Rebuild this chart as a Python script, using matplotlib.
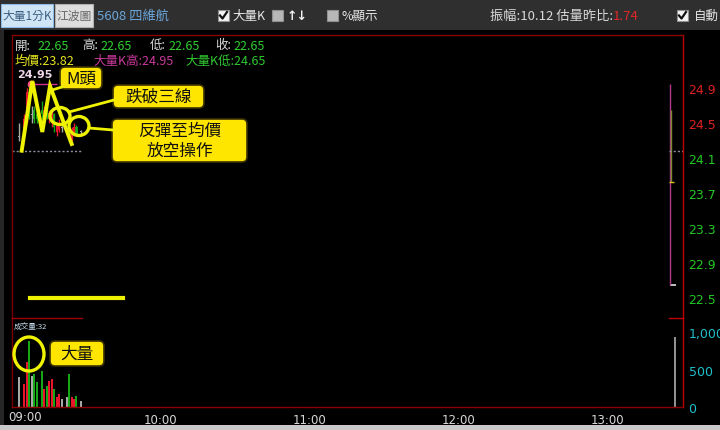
import matplotlib
matplotlib.use('Agg')
import matplotlib.pyplot as plt
from matplotlib.patches import Rectangle, FancyBboxPatch, Ellipse
from matplotlib.lines import Line2D

plt.rcParams['font.family'] = ['Noto Sans CJK TC', 'DejaVu Sans']

W, H = 720, 431

# ---------------- data ----------------
minutes = [3, 5, 6, 7, 8, 9, 10, 12, 13, 14, 15, 16, 17, 18, 19, 20, 22, 23, 24, 25, 26, 28]
opens  = [24.35, 24.40, 24.55, 24.85, 24.60, 24.65, 24.60, 24.65, 24.55, 24.65, 24.55, 24.55, 24.60, 24.40, 24.42, 24.45, 24.40, 24.45, 24.32, 24.38, 24.45, 24.40]
highs  = [24.50, 24.60, 24.90, 24.95, 24.70, 24.70, 24.65, 24.75, 24.70, 24.70, 24.65, 24.65, 24.62, 24.50, 24.55, 24.50, 24.45, 24.48, 24.45, 24.50, 24.48, 24.42]
lows   = [24.30, 24.35, 24.50, 24.55, 24.50, 24.50, 24.50, 24.55, 24.50, 24.55, 24.50, 24.45, 24.40, 24.35, 24.40, 24.40, 24.35, 24.28, 24.30, 24.35, 24.35, 24.36]
closes = [24.35, 24.55, 24.85, 24.60, 24.60, 24.55, 24.55, 24.60, 24.65, 24.60, 24.62, 24.60, 24.45, 24.48, 24.50, 24.45, 24.40, 24.32, 24.42, 24.46, 24.38, 24.40]
volumes = [400, 307, 600, 880, 413, 440, 333, 480, 240, 280, 347, 373, 240, 133, 173, 107, 133, 440, 133, 107, 147, 80]

last_minute = 266.5
last_ohlc = (22.65, 22.65, 22.65, 22.65)
last_vol_minute = 267.5
last_volume = 933

bigk_high = 24.95
bigk_low = 24.65
avg_price = 23.82
ref_line = 24.18

price_ticks = [24.9, 24.5, 24.1, 23.7, 23.3, 22.9, 22.5]
price_tick_colors = ['#e02020', '#e02020', '#22c822', '#22c822', '#22c822', '#22c822', '#22c822']
vol_ticks = [0, 500, 1000]
vol_tick_labels = ['0', '500', '1,000']
time_ticks = [60, 120, 180, 240]
time_labels = ['10:00', '11:00', '12:00', '13:00']

# ---------------- figure ----------------
fig = plt.figure(figsize=(W / 100, H / 100), dpi=100)
fig.patch.set_facecolor('black')

def fx(x):
    return x / W

def fy(y):
    return 1 - y / H

XL = (0, 270.6)
PY = (22.271, 25.506)

ax = fig.add_axes([fx(12), fy(319), fx(683) - fx(12), fy(36) - fy(319)])
ax.set_facecolor('none')
ax.set_xlim(*XL)
ax.set_ylim(*PY)

axv = fig.add_axes([fx(12), fy(408), fx(683) - fx(12), fy(319) - fy(408)])
axv.set_facecolor('none')
axv.set_xlim(*XL)
axv.set_ylim(0, 1186.7)

def ccol(o, c):
    if c > o:
        return '#e8152b'
    if c < o:
        return '#14a814'
    return '#a8a8a8'

cols = [ccol(o, c) for o, c in zip(opens, closes)]
for m, o, h, l, c, col in zip(minutes, opens, highs, lows, closes, cols):
    ax.vlines(m, l, h, color=col, lw=1.0)
    b = min(o, c)
    hgt = max(abs(c - o), 0.012)
    ax.bar(m, hgt, bottom=b - (0.006 if c == o else 0), width=0.85, color=col, lw=0)

# last candle (doji)
ax.hlines(last_ohlc[3], last_minute - 1.2, last_minute + 1.2, color='#e0e0e0', lw=1.2)

# big-K high line & ref line
ax.hlines(bigk_high, 7.7, 18, color='#d0308a', lw=1.0)
ax.plot([7.7], [bigk_high], 'o', color='#ff4a8a', ms=4.5)
ax.vlines(last_minute - 1.3, last_ohlc[3], bigk_high, color='#b03a8a', lw=1.0)
ax.vlines(last_minute - 0.6, avg_price, bigk_low, color='#7a8a2a', lw=1.0)
ax.hlines(avg_price, last_minute - 1.5, last_minute + 0.3, color='#d8c020', lw=1.0)
ax.hlines(ref_line, 0, 28, color='#9090a0', lw=1.0, linestyles=(0, (1.5, 1.5)))
ax.hlines(ref_line, 265, 270.6, color='#9090a0', lw=1.0, linestyles=(0, (1.5, 1.5)))

# volumes
axv.bar(minutes, volumes, width=0.8, color=cols, lw=0)
axv.bar([last_vol_minute], [last_volume], width=0.7, color='#909090', lw=0)

# axes styling
for a in (ax, axv):
    a.tick_params(length=0)
    for s in a.spines.values():
        s.set_linewidth(1.0)
ax.spines['top'].set_color('#8a0000')
ax.spines['left'].set_color('#7a0000')
ax.spines['right'].set_color('#c00000')
ax.spines['bottom'].set_visible(False)
axv.spines['top'].set_visible(False)
axv.spines['left'].set_color('#7a0000')
axv.spines['right'].set_color('#c00000')
axv.spines['bottom'].set_color('#8a0000')

ax.yaxis.tick_right()
ax.set_yticks(price_ticks)
ax.set_yticklabels([f'{v:.1f}' for v in price_ticks], fontsize=9, family='DejaVu Sans')
for lbl, col in zip(ax.get_yticklabels(), price_tick_colors):
    lbl.set_color(col)
ax.tick_params(axis='y', pad=4)
ax.set_xticks([])

axv.yaxis.tick_right()
axv.set_yticks(vol_ticks)
axv.set_yticklabels(vol_tick_labels, fontsize=9, color='#20c0cc', family='DejaVu Sans')
axv.tick_params(axis='y', pad=4)
axv.set_xticks(time_ticks)
axv.set_xticklabels(time_labels, fontsize=8.5, color='#d8d8d8', family='DejaVu Sans')
axv.tick_params(axis='x', pad=4)

# ---------------- overlay (pixel coords) ----------------
ov = fig.add_axes([0, 0, 1, 1], zorder=10)
ov.set_xlim(0, W)
ov.set_ylim(H, 0)
ov.axis('off')

# toolbar
ov.add_patch(Rectangle((0, 0), W, 31, fc='#2f2f2f', ec='none'))
ov.add_patch(Rectangle((0, 31), 4, 396, fc='#262626', ec='none'))
ov.add_patch(Rectangle((0, 426), W, 5, fc='#c8c8c8', ec='none'))

ov.add_patch(Rectangle((1, 5), 52, 23, fc='#cfe5f6', ec='#8cbbe6', lw=0.8))
ov.text(27, 16.5, '大量1分K', fontsize=8.5, color='#3d5f80', ha='center', va='center')
ov.add_patch(Rectangle((55, 5), 38, 23, fc='#dedede', ec='#b0b0b0', lw=0.8))
ov.text(74, 16.5, '江波圖', fontsize=8.5, color='#686868', ha='center', va='center')
ov.text(97, 16.5, '5608 四維航', fontsize=9.5, color='#6aa6dc', ha='left', va='center')

def checkbox(x, checked):
    ov.add_patch(Rectangle((x, 11), 11, 11, fc='#f4f4f4' if checked else '#b8b8b8',
                           ec='#909090', lw=0.8))
    if checked:
        ov.add_line(Line2D([x + 2, x + 4.5, x + 9], [16.5, 19.5, 13],
                           color='#111111', lw=1.6))

checkbox(218, True)
ov.text(232, 16.5, '大量K', fontsize=9, color='#e8e8e8', ha='left', va='center')
checkbox(272, False)
ov.text(287, 16.5, '↑↓', fontsize=9, color='#f0f0f0', ha='left', va='center',
        family='DejaVu Sans', fontweight='bold')
checkbox(327, False)
ov.text(342, 16.5, '%顯示', fontsize=9, color='#e8e8e8', ha='left', va='center')
ov.text(490, 16.5, '振幅:10.12 估量昨比:', fontsize=9.5, color='#d8d8d8', ha='left', va='center')
ov.text(613, 16.5, '1.74', fontsize=9.5, color='#e02828', ha='left', va='center')
checkbox(677, True)
ov.text(694, 16.5, '自動', fontsize=9, color='#e8e8e8', ha='left', va='center')

# header rows
row1 = [(15, '開:', '#d8d8d8'), (37, '22.65', '#2fd02f'), (82, '高:', '#d8d8d8'), (100, '22.65', '#2fd02f'),
        (150, '低:', '#d8d8d8'), (168, '22.65', '#2fd02f'), (215, '收:', '#d8d8d8'), (233, '22.65', '#2fd02f')]
for x, t, c in row1:
    ov.text(x, 46, t, fontsize=9, color=c, ha='left', va='center')
ov.text(15, 61, '均價:23.82', fontsize=9, color='#e6e620', ha='left', va='center')
ov.text(93, 61, '大量K高:24.95', fontsize=9, color='#c8389a', ha='left', va='center')
ov.text(185, 61, '大量K低:24.65', fontsize=9, color='#2fc82f', ha='left', va='center')
ov.text(17, 75, '24.95', fontsize=8, color='#f0d8e8', ha='left', va='center',
        family='DejaVu Sans', fontweight='bold')
ov.text(14, 327, '成交量:32', fontsize=5.5, color='#c8dcec', ha='left', va='center')

# x label 09:00
ov.text(8, 418, '09:00', fontsize=8.5, color='#d8d8d8', ha='left', va='center', family='DejaVu Sans')

# divider segments
ov.add_line(Line2D([12, 82], [319, 319], color='#a00000', lw=1))
ov.add_line(Line2D([669, 683], [319, 319], color='#c00000', lw=1))

# yellow annotations
YEL = '#eef200'
ov.add_line(Line2D([21.7, 32.3, 42.3, 50, 71.7], [151.7, 82, 133, 87, 145], color=YEL, lw=2.8,
                   solid_joinstyle='miter'))
ov.add_patch(Ellipse((60, 117), 20, 17, fill=False, ec=YEL, lw=2.4))
ov.add_patch(Ellipse((79, 127), 20, 19, fill=False, ec=YEL, lw=2.4))
ov.add_patch(Ellipse((29, 355), 30, 34, fill=False, ec=YEL, lw=2.4))
ov.add_line(Line2D([62, 52], [88, 91], color=YEL, lw=2))
ov.add_line(Line2D([114, 69], [101, 113], color=YEL, lw=2))
ov.add_line(Line2D([113, 89], [131, 129], color=YEL, lw=2))
ov.add_line(Line2D([30, 123], [299, 299], color=YEL, lw=3))

def callout(x0, y0, x1, y1, text, fs=12):
    ov.add_patch(FancyBboxPatch((x0, y0), x1 - x0, y1 - y0,
                                boxstyle='round,pad=0,rounding_size=5',
                                fc='#ffe600', ec='#3a3200', lw=1.2))
    ov.text((x0 + x1) / 2, (y0 + y1) / 2, text, fontsize=fs, color='#111111',
            ha='center', va='center', linespacing=1.2)

callout(60, 68, 102, 90, 'M頭')
callout(113, 86, 204, 109, '跌破三線')
callout(112, 120, 247, 163, '反彈至均價\n放空操作')
callout(50, 342, 104, 367, '大量')

fig.savefig('out.png', dpi=100, facecolor=fig.get_facecolor())
